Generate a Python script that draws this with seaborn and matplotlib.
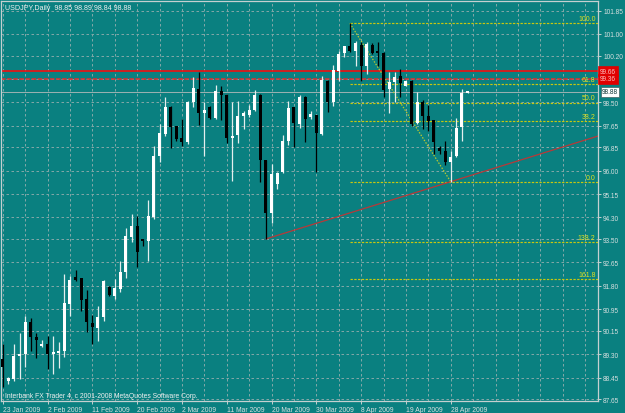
import numpy as np
import pandas as pd
import matplotlib
matplotlib.use("Agg")
import matplotlib.pyplot as plt
import matplotlib.transforms as mtransforms
import seaborn as sns

# ---------------- data (USDJPY daily candles) ----------------
opens = [89.13, 88.33, 88.40, 89.22, 89.31, 90.47, 89.92, 89.61, 89.67, 89.32,
         89.35, 89.41, 91.13, 92.11, 92.07, 91.32, 90.43, 90.25, 90.67, 91.77,
         91.42, 91.68, 92.29, 93.59, 93.97, 93.48, 93.45, 94.30, 96.53, 97.34,
         98.32, 97.62, 97.20, 97.06, 98.50, 98.98, 98.11, 98.34, 97.91, 98.90,
         98.77, 97.20, 97.30, 97.99, 98.03, 98.23, 98.77, 96.39, 94.46, 95.52,
         95.97, 97.07, 98.32, 97.71, 98.70, 97.96, 98.03, 97.34, 99.29, 98.50,
         99.65, 100.29, 100.54, 100.36, 100.60, 99.83, 100.60, 100.36, 100.30, 98.98,
         99.25, 99.47, 99.10, 99.29, 97.74, 98.50, 98.01, 97.85, 96.82, 96.71,
         96.31, 96.53, 97.59, 98.85]
highs = [89.67, 88.46, 89.67, 90.06, 90.71, 90.62, 90.08, 89.82, 89.96, 89.96,
         89.76, 92.23, 92.17, 92.38, 92.09, 91.65, 90.73, 91.07, 92.01, 91.80,
         92.05, 92.71, 93.91, 94.42, 94.36, 93.50, 94.94, 96.91, 97.71, 98.68,
         98.35, 97.64, 97.89, 98.56, 99.41, 99.62, 98.50, 98.36, 99.14, 99.10,
         98.80, 98.50, 98.56, 98.19, 98.40, 98.95, 98.80, 96.40, 96.25, 95.95,
         97.32, 98.53, 98.34, 98.77, 98.72, 98.18, 98.05, 99.45, 99.32, 99.87,
         100.38, 100.57, 101.38, 100.75, 100.69, 100.69, 100.66, 100.69, 100.32, 99.59,
         99.59, 99.71, 99.28, 99.30, 98.89, 98.58, 98.41, 97.87, 96.91, 97.07,
         96.73, 97.93, 98.98, 98.89]
lows = [88.10, 88.21, 88.33, 88.40, 88.82, 89.43, 89.16, 89.58, 88.76, 88.58,
        88.79, 89.19, 90.71, 91.97, 90.87, 90.10, 89.67, 89.79, 90.52, 91.44,
        91.32, 91.56, 92.07, 93.39, 92.47, 93.26, 92.71, 94.24, 96.31, 97.28,
        96.82, 97.10, 96.89, 96.98, 98.34, 97.68, 96.55, 97.90, 97.88, 97.86,
        97.01, 95.64, 97.01, 97.52, 97.95, 98.19, 95.60, 93.51, 94.09, 95.33,
        95.92, 96.94, 96.86, 97.55, 97.06, 97.89, 95.94, 97.30, 98.16, 98.37,
        99.29, 100.14, 100.34, 99.83, 99.29, 99.53, 100.27, 99.83, 98.68, 98.10,
        98.50, 98.70, 99.08, 97.64, 97.71, 97.52, 97.44, 96.61, 96.61, 96.22,
        95.60, 96.49, 97.10, 98.84]
closes = [88.82, 88.43, 89.25, 89.32, 90.47, 89.92, 89.83, 89.67, 89.31, 89.35,
          89.43, 91.16, 92.01, 92.02, 91.29, 90.47, 90.28, 90.67, 91.96, 91.47,
          91.72, 92.29, 93.63, 93.99, 93.02, 93.45, 94.36, 96.55, 97.38, 98.32,
          97.59, 97.16, 97.06, 98.50, 99.01, 98.10, 98.23, 97.91, 98.90, 98.77,
          97.20, 97.28, 98.01, 98.10, 98.23, 98.77, 96.39, 94.46, 95.88, 95.92,
          97.10, 98.29, 97.73, 98.70, 97.89, 98.07, 97.38, 99.32, 98.50, 99.68,
          100.26, 100.54, 100.36, 100.65, 99.83, 100.63, 100.29, 100.29, 98.96, 99.23,
          99.43, 99.20, 99.27, 97.71, 98.52, 98.01, 97.80, 97.06, 96.73, 96.33,
          96.51, 97.56, 98.84, 98.88]

date_labels = ["23 Jan 2009", "2 Feb 2009", "11 Feb 2009", "20 Feb 2009", "2 Mar 2009",
               "11 Mar 2009", "20 Mar 2009", "30 Mar 2009", "8 Apr 2009", "19 Apr 2009",
               "28 Apr 2009"]
date_label_bars = [0, 8, 16, 24, 32, 40, 48, 56, 64, 72, 80]

price_ticks = [101.85, 101.00, 100.20, 99.35, 98.50, 97.65, 96.85, 96.00, 95.15,
               94.30, 93.50, 92.65, 91.80, 90.95, 90.15, 89.30, 88.45, 87.65]

fib_labels = ["0.0", "38.2", "50.0", "61.8", "100.0", "138.2", "161.8"]
fib_prices = [95.60, 97.81, 98.49, 99.17, 101.38, 93.39, 92.03]
fib_bars = [62, 80]          # swing high bar, swing low bar
fib_ends = [101.38, 95.60]   # swing high, swing low

trend_bars = [47, 80]
trend_prices = [93.51, 95.60]

hline_prices = [99.64, 99.35]
hline_labels = ["99.66", "99.36"]
bid_price = 98.88
bid_label = "98.88"

title_text = "USDJPY,Daily  98.85 98.89 98.84 98.88"
footer_text = "Interbank FX Trader 4, c 2001-2008 MetaQuotes Software Corp."

# ---------------- style ----------------
BG = "#0a8080"
FG = "#d8e0e0"
sns.set_style("dark")
plt.rcParams["font.family"] = ["Liberation Sans", "DejaVu Sans"]
plt.rcParams["axes.facecolor"] = BG
plt.rcParams["figure.facecolor"] = BG

W, H = 625, 414
fig = plt.figure(figsize=(W / 100, H / 100), dpi=100, facecolor=BG)
left_px, right_px, top_px, bot_px = 1.5, 598.3, 1.5, 401.5
ax = fig.add_axes([left_px / W, (H - bot_px) / H, (right_px - left_px) / W, (bot_px - top_px) / H])
ax.set_facecolor(BG)

bar_px = 5.6
x0_px = 2.7
ax.set_xlim((left_px - x0_px) / bar_px, (right_px - x0_px) / bar_px)
ppx = 0.03651
ax.set_ylim(102.27 - ppx * bot_px, 102.27 - ppx * top_px)

df = pd.DataFrame({"open": opens, "high": highs, "low": lows, "close": closes})
df["bar"] = np.arange(len(df))
df["bull"] = df["close"] >= df["open"]

# grid
GRID = "#7fa6a6"
ax.set_axisbelow(True)
ax.set_xticks(np.arange(0, 108, 4), minor=True)
ax.grid(True, which="minor", axis="x", color=GRID, linestyle=(0, (2.5, 2.5)), linewidth=0.72)
ax.grid(True, which="major", axis="x", color=GRID, linestyle=(0, (2.5, 2.5)), linewidth=0.72)
ax.grid(True, which="major", axis="y", color=GRID, linestyle=(0, (2.5, 2.5)), linewidth=0.72)

# horizontal lines (red) and bid line
ax.axhline(hline_prices[0], color="#f01010", lw=1.2, zorder=2)
ax.axhline(hline_prices[1], color="#e03030", lw=1.1, linestyle=(0, (3, 1)), zorder=2)
ax.axhline(bid_price, color="#98b0b0", lw=0.75, zorder=2)

# fibonacci levels
fib_x_start = fib_bars[0]
xr = ax.get_xlim()[1]
for lab, p in zip(fib_labels, fib_prices):
    ax.hlines(p, fib_x_start, xr, color="#c8c810", lw=0.85, linestyle=(0, (2, 1.2)), zorder=2)
    ax.text(xr - 0.5, p + 0.04, lab, color="#e0e020", fontsize=5.0, ha="right", va="bottom", zorder=6)

fib_df = pd.DataFrame({"bar": fib_bars, "price": fib_ends})
sns.lineplot(data=fib_df, x="bar", y="price", ax=ax, color="#b8c830", lw=0.9,
             linestyle=(0, (1.2, 1.2)), zorder=2)

# trendline (ray to the right)
slope = (trend_prices[1] - trend_prices[0]) / (trend_bars[1] - trend_bars[0])
tr_df = pd.DataFrame({"bar": [trend_bars[0], xr],
                      "price": [trend_prices[0], trend_prices[0] + slope * (xr - trend_bars[0])]})
sns.lineplot(data=tr_df, x="bar", y="price", ax=ax, color="#b83838", lw=0.9, zorder=2)

# candles
body_w = 0.56
for _, r in df.iterrows():
    col = "#ffffff" if r["bull"] else "#000000"
    wick = "#e4eeee" if r["bull"] else "#000000"
    ax.vlines(r["bar"], r["low"], r["high"], color=wick, lw=0.9, zorder=4)
    lo = min(r["open"], r["close"])
    h = max(abs(r["close"] - r["open"]), 0.045)
    ax.bar(r["bar"], h, bottom=lo, width=body_w, color=col, edgecolor="none", zorder=5)

# spines
for s in ax.spines.values():
    s.set_visible(True)
    s.set_color("#c4d0d0")
    s.set_linewidth(0.9)

# axes ticks
ax.yaxis.tick_right()
ax.set_yticks(price_ticks)
ax.set_yticklabels([("" if abs(p - 99.35) < 1e-6 else f"{p:.2f}") for p in price_ticks])
ax.tick_params(axis="y", which="major", right=True, left=False, length=2.0, width=0.7,
               color="#c4d0d0", labelcolor=FG, labelsize=4.7, pad=1.5)
ax.set_xticks(date_label_bars)
ax.set_xticklabels(date_labels)
for t in ax.get_xticklabels():
    t.set_ha("left")
ax.tick_params(axis="x", which="major", bottom=True, length=2.5, width=0.7,
               color="#c4d0d0", labelcolor=FG, labelsize=4.9, pad=1.5)
ax.tick_params(axis="x", which="minor", length=0)
ax.set_xlabel("")
ax.set_ylabel("")

# price labels on the right axis
trans = mtransforms.blended_transform_factory(ax.transAxes, ax.transData)
for p, lab in zip(hline_prices, hline_labels):
    ax.text(1.003, p, lab, transform=trans, fontsize=4.7, color="#ffc0c0", ha="left", va="center",
            clip_on=False, zorder=10,
            bbox=dict(boxstyle="square,pad=0.3", fc="#e00000", ec="#e00000", lw=0.5))
ax.text(1.006, bid_price, bid_label, transform=trans, fontsize=4.7, color="#103838", ha="left",
        va="center", clip_on=False, zorder=10,
        bbox=dict(boxstyle="square,pad=0.2", fc="#ffffff", ec="#406060", lw=0.5))

# title and footer
ax.text(4 / (right_px - left_px), 1 - 7.5 / (bot_px - top_px), title_text, transform=ax.transAxes,
        fontsize=5.1, color="#f0f0f0", ha="left", va="center", zorder=10)
ax.text(4 / (right_px - left_px), 5.0 / (bot_px - top_px), footer_text, transform=ax.transAxes,
        fontsize=4.9, color="#f0f0f0", ha="left", va="center", zorder=10)

fig.savefig("out.png", dpi=100, facecolor=BG)
